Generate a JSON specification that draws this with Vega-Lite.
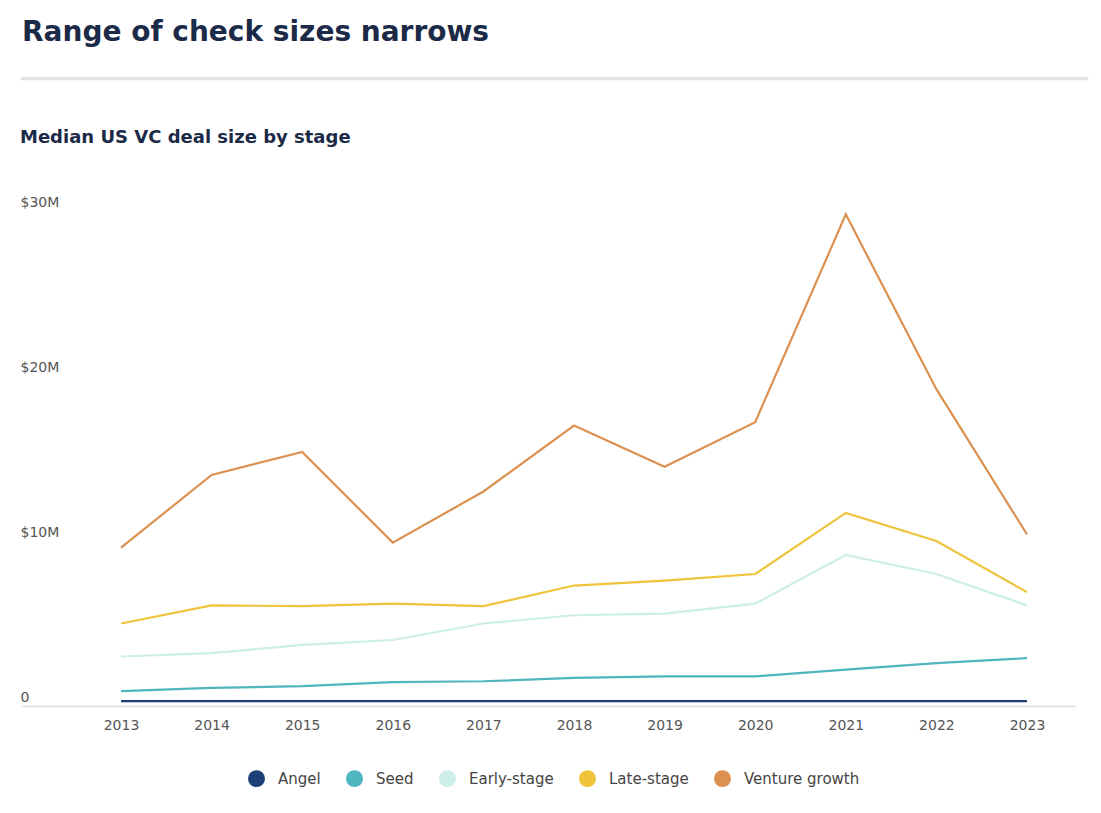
{
  "$schema": "https://vega.github.io/schema/vega-lite/v6.json",
  "background": "white",
  "padding": {"left": 20, "top": 17, "right": 10, "bottom": 5},
  "config": {
    "font": "DejaVu Sans",
    "view": {"stroke": null},
    "concat": {"spacing": 48},
    "legend": {"layout": {"bottom": {"anchor": "middle"}}}
  },
  "datasets": {
    "deals": [
      {"year": 2013, "stage": "Angel", "value": 0.3},
      {"year": 2014, "stage": "Angel", "value": 0.3},
      {"year": 2015, "stage": "Angel", "value": 0.3},
      {"year": 2016, "stage": "Angel", "value": 0.3},
      {"year": 2017, "stage": "Angel", "value": 0.3},
      {"year": 2018, "stage": "Angel", "value": 0.3},
      {"year": 2019, "stage": "Angel", "value": 0.3},
      {"year": 2020, "stage": "Angel", "value": 0.3},
      {"year": 2021, "stage": "Angel", "value": 0.3},
      {"year": 2022, "stage": "Angel", "value": 0.3},
      {"year": 2023, "stage": "Angel", "value": 0.3},
      {"year": 2013, "stage": "Seed", "value": 0.9},
      {"year": 2014, "stage": "Seed", "value": 1.1},
      {"year": 2015, "stage": "Seed", "value": 1.2},
      {"year": 2016, "stage": "Seed", "value": 1.45},
      {"year": 2017, "stage": "Seed", "value": 1.5},
      {"year": 2018, "stage": "Seed", "value": 1.7},
      {"year": 2019, "stage": "Seed", "value": 1.8},
      {"year": 2020, "stage": "Seed", "value": 1.8},
      {"year": 2021, "stage": "Seed", "value": 2.2},
      {"year": 2022, "stage": "Seed", "value": 2.6},
      {"year": 2023, "stage": "Seed", "value": 2.9},
      {"year": 2013, "stage": "Early-stage", "value": 3.0},
      {"year": 2014, "stage": "Early-stage", "value": 3.2},
      {"year": 2015, "stage": "Early-stage", "value": 3.7},
      {"year": 2016, "stage": "Early-stage", "value": 4.0},
      {"year": 2017, "stage": "Early-stage", "value": 5.0},
      {"year": 2018, "stage": "Early-stage", "value": 5.5},
      {"year": 2019, "stage": "Early-stage", "value": 5.6},
      {"year": 2020, "stage": "Early-stage", "value": 6.2},
      {"year": 2021, "stage": "Early-stage", "value": 9.15},
      {"year": 2022, "stage": "Early-stage", "value": 8.0},
      {"year": 2023, "stage": "Early-stage", "value": 6.1},
      {"year": 2013, "stage": "Late-stage", "value": 5.0},
      {"year": 2014, "stage": "Late-stage", "value": 6.1},
      {"year": 2015, "stage": "Late-stage", "value": 6.05},
      {"year": 2016, "stage": "Late-stage", "value": 6.2},
      {"year": 2017, "stage": "Late-stage", "value": 6.05},
      {"year": 2018, "stage": "Late-stage", "value": 7.3},
      {"year": 2019, "stage": "Late-stage", "value": 7.6},
      {"year": 2020, "stage": "Late-stage", "value": 8.0},
      {"year": 2021, "stage": "Late-stage", "value": 11.7},
      {"year": 2022, "stage": "Late-stage", "value": 10.0},
      {"year": 2023, "stage": "Late-stage", "value": 6.9},
      {"year": 2013, "stage": "Venture growth", "value": 9.6},
      {"year": 2014, "stage": "Venture growth", "value": 14.0},
      {"year": 2015, "stage": "Venture growth", "value": 15.4},
      {"year": 2016, "stage": "Venture growth", "value": 9.9},
      {"year": 2017, "stage": "Venture growth", "value": 13.0},
      {"year": 2018, "stage": "Venture growth", "value": 17.0},
      {"year": 2019, "stage": "Venture growth", "value": 14.5},
      {"year": 2020, "stage": "Venture growth", "value": 17.2},
      {"year": 2021, "stage": "Venture growth", "value": 29.8},
      {"year": 2022, "stage": "Venture growth", "value": 19.2},
      {"year": 2023, "stage": "Venture growth", "value": 10.4}
    ],
    "empty": []
  },
  "vconcat": [
    {
      "title": {
        "text": "Range of check sizes narrows",
        "anchor": "start",
        "fontSize": 28,
        "fontWeight": "bold",
        "color": "#1b2a47",
        "offset": 31
      },
      "width": 1065,
      "height": 1,
      "view": {"stroke": "#e3e3e3", "strokeWidth": 2.5},
      "data": {"name": "empty"},
      "mark": {"type": "point", "opacity": 0},
      "encoding": {}
    },
    {
      "title": {
        "text": "Median US VC deal size by stage",
        "anchor": "start",
        "fontSize": 18,
        "fontWeight": "bold",
        "color": "#1b2a47",
        "offset": 48
      },
      "width": 1053,
      "height": 495,
      "data": {"name": "deals"},
      "mark": {"type": "line", "strokeWidth": 2.2},
      "encoding": {
        "x": {
          "field": "year",
          "type": "quantitative",
          "scale": {"domain": [2011.907, 2023.53], "nice": false, "zero": false},
          "axis": {
            "title": null,
            "values": [2013, 2014, 2015, 2016, 2017, 2018, 2019, 2020, 2021, 2022, 2023],
            "format": "d",
            "ticks": false,
            "tickSize": 0,
            "grid": false,
            "domainColor": "#dcdcdc",
            "domainWidth": 1.5,
            "labelFontSize": 14,
            "labelColor": "#555555",
            "labelPadding": 12
          }
        },
        "y": {
          "field": "value",
          "type": "quantitative",
          "scale": {"domain": [0, 30], "nice": false},
          "axis": {
            "title": null,
            "values": [0, 10, 20, 30],
            "labelExpr": "datum.value == 0 ? '0' : '$' + datum.value + 'M'",
            "domain": false,
            "ticks": false,
            "tickSize": 0,
            "grid": false,
            "labelAlign": "left",
            "labelPadding": 2,
            "labelOffset": -9,
            "labelFontSize": 14,
            "labelColor": "#555555"
          }
        },
        "color": {
          "field": "stage",
          "type": "nominal",
          "scale": {
            "domain": ["Angel", "Seed", "Early-stage", "Late-stage", "Venture growth"],
            "range": ["#1d3f77", "#4fb6bf", "#cdeee9", "#efc43a", "#dc9150"]
          },
          "legend": {
            "title": null,
            "orient": "bottom",
            "direction": "horizontal",
            "symbolType": "circle",
            "symbolSize": 72,
            "symbolStrokeWidth": 8.5,
            "symbolOpacity": 1,
            "labelFontSize": 15,
            "labelColor": "#444444",
            "labelOffset": 13,
            "columnPadding": 12,
            "offset": 38
          }
        }
      }
    }
  ]
}
